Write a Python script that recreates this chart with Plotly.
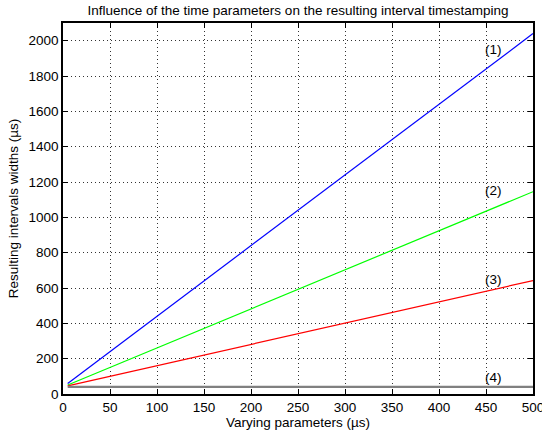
import plotly.graph_objects as go

# Data
x_vals = [5, 500]
series1 = [60, 2040]   # (1) blue
series2 = [51, 1145]   # (2) green
series3 = [46, 642]    # (3) red
series4 = [40, 40]     # (4) gray
label_texts = ["(1)", "(2)", "(3)", "(4)"]
label_x = [450, 450, 450, 450]
label_y = [1950, 1150, 650, 95]

fig = go.Figure()
fig.add_trace(go.Scatter(x=x_vals, y=series1, mode="lines", line=dict(color="#0000FF", width=1.2), showlegend=False))
fig.add_trace(go.Scatter(x=x_vals, y=series2, mode="lines", line=dict(color="#00FF00", width=1.2), showlegend=False))
fig.add_trace(go.Scatter(x=x_vals, y=series3, mode="lines", line=dict(color="#FF0000", width=1.2), showlegend=False))
fig.add_trace(go.Scatter(x=x_vals, y=series4, mode="lines", line=dict(color="#808080", width=2.2), showlegend=False))

fs = 13.5
for t, xx, yy in zip(label_texts, label_x, label_y):
    fig.add_annotation(x=xx, y=yy, text=t, showarrow=False, xanchor="left", yanchor="middle",
                       xshift=-3, font=dict(size=fs, color="black"))

font_family = "Liberation Sans, Arial, sans-serif"
axis_common = dict(
    showline=True, linecolor="black", linewidth=1.5, mirror="ticks",
    ticks="inside", ticklen=5, tickcolor="black", tickwidth=1,
    showgrid=True, gridcolor="#333333", griddash="1px,3px", gridwidth=1,
    zeroline=False, tickfont=dict(size=fs, color="black", family=font_family),
    automargin=False, ticklabeloverflow="allow",
)

fig.update_layout(
    width=542, height=434,
    margin=dict(l=63, r=9, t=23, b=40),
    paper_bgcolor="white", plot_bgcolor="white",
    font=dict(family=font_family, size=fs, color="black"),
    title=dict(text="Influence of the time parameters on the resulting interval timestamping",
               x=0.5, xref="paper", xanchor="center", y=0.988, yanchor="top",
               font=dict(size=fs, color="black")),
    xaxis=dict(range=[0, 500], dtick=50, tick0=0,
               title=dict(text="Varying parameters (µs)", standoff=0, font=dict(size=fs)),
               **axis_common),
    yaxis=dict(range=[0, 2100], dtick=200, tick0=0,
               title=dict(text="Resulting intervals widths (µs)", standoff=7, font=dict(size=fs)),
               **axis_common),
)

fig.write_html("out.html")
